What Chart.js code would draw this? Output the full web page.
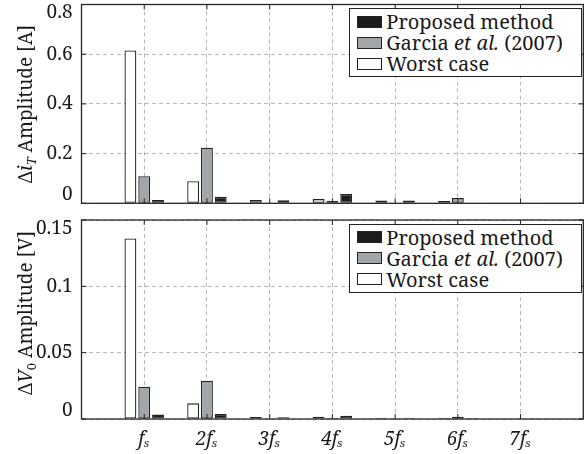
<!DOCTYPE html>
<html><head><meta charset="utf-8">
<script src="https://cdn.jsdelivr.net/npm/chart.js@4.4.1/dist/chart.umd.min.js"></script>
<style>
html,body{margin:0;padding:0;background:#fff;}
#wrap{position:relative;width:584px;height:454px;overflow:hidden;background:#fff;font-family:"Noto Serif","Liberation Serif",serif;color:#1a1a1a;}
.cv{position:absolute;left:0;}
.ytitle{position:absolute;white-space:nowrap;font-size:19px;line-height:1;transform:translate(-50%,-50%) rotate(-90deg);}
.ytitle sub{font-size:13px;vertical-align:-4px;line-height:0;}
.legend{position:absolute;border:1.3px solid #222;background:#fff;box-sizing:border-box;padding:2px 4px 2px 7px;font-size:20px;line-height:21px;}
.legend .row{display:flex;align-items:center;height:21px;white-space:nowrap;}
.legend .sw{width:25px;height:12px;box-sizing:border-box;border:1.3px solid #222;margin-right:4px;flex:none;}
</style></head>
<body>
<div id="wrap">
<canvas id="c1" class="cv" width="584" height="210" style="top:0"></canvas>
<canvas id="c2" class="cv" width="584" height="244" style="top:210px"></canvas>
</div>
<script>
// ---- data ----
const categories = ['fₛ', '2fₛ', '3fₛ', '4fₛ', '5fₛ', '6fₛ', '7fₛ'];
const seriesNames = ['Worst case', 'Garcia et al. (2007)', 'Proposed method'];
const seriesColors = ['#ffffff', '#a3a6a8', '#1c1c1c'];

// top panel: ΔiT amplitude [A]
const iWorst    = [0.615, 0.089, 0.013, 0.017, 0.011, 0.009, 0];
const iGarcia   = [0.109, 0.224, 0.002, 0.009, 0.002, 0.021, 0];
const iProposed = [0.013, 0.026, 0.012, 0.037, 0.011, 0, 0];
const iTicks = [0, 0.2, 0.4, 0.6, 0.8];
const iTickLabels = ['0', '0.2', '0.4', '0.6', '0.8'];

// bottom panel: ΔV0 amplitude [V]
const vWorst    = [0.136, 0.0118, 0.0015, 0.0017, 0.001, 0.001, 0.0005];
const vGarcia   = [0.0244, 0.0289, 0.0005, 0.001, 0.0005, 0.0015, 0.0005];
const vProposed = [0.0033, 0.0038, 0.0013, 0.0025, 0.001, 0.0008, 0.0005];
const vTicks = [0, 0.05, 0.1, 0.15];
const vTickLabels = ['0', '0.05', '0.1', '0.15'];

const topTitle = 'Δ<i>i</i><sub><i>T</i></sub> Amplitude [A]';
const bottomTitle = 'Δ<i>V</i><sub>0</sub> Amplitude [V]';

// ---- drawing ----
const SERIF = '"Noto Serif", "Liberation Serif", serif';
const boxPlugin = {
  id: 'box',
  afterDatasetsDraw(chart) {
    const {ctx, chartArea: a, scales} = chart;
    ctx.save();
    ctx.strokeStyle = '#262626';
    ctx.lineWidth = 1.3;
    ctx.strokeRect(a.left, a.top, a.right - a.left, a.bottom - a.top);
    ctx.lineWidth = 1;
    ctx.beginPath();
    const tl = 5;
    const n = scales.x.ticks.length;
    for (let i = 1; i < n - 1; i++) {
      const x = scales.x.getPixelForTick(i);
      ctx.moveTo(x, a.bottom); ctx.lineTo(x, a.bottom - tl);
      ctx.moveTo(x, a.top); ctx.lineTo(x, a.top + tl);
    }
    scales.y.ticks.forEach(t => {
      const y = scales.y.getPixelForValue(t.value);
      ctx.moveTo(a.left, y); ctx.lineTo(a.left + tl, y);
      ctx.moveTo(a.right, y); ctx.lineTo(a.right - tl, y);
    });
    ctx.stroke();
    ctx.restore();
  }
};

function makeChart(canvas, series, ticks, tickLabels, showX, pad, xH) {
  const labels = ['', ...categories, ''];
  const wrapArr = arr => [null, ...arr, null];
  return new Chart(canvas, {
    type: 'bar',
    data: {
      labels,
      datasets: series.map((s, k) => ({
        label: seriesNames[k],
        data: wrapArr(s),
        backgroundColor: seriesColors[k],
        borderColor: '#222',
        borderWidth: 1.3,
        borderSkipped: false,
        categoryPercentage: 0.66,
        barPercentage: 0.86
      }))
    },
    options: {
      responsive: false,
      animation: false,
      devicePixelRatio: 1,
      layout: {padding: pad},
      plugins: {legend: {display: false}, tooltip: {enabled: false}},
      scales: {
        x: {
          offset: false,
          grid: {color: '#b8b8b8', lineWidth: 1, drawTicks: false, offset: false},
          border: {display: false, dash: [4, 3]},
          ticks: {
            display: showX, autoSkip: false, maxRotation: 0, minRotation: 0, padding: 9,
            color: '#1a1a1a',
            font: {family: SERIF, size: 19, style: 'italic', lineHeight: 1.2}
          },
          afterFit(s) { s.height = xH; s.paddingLeft = 0; s.paddingRight = 0; }
        },
        y: {
          min: ticks[0], max: ticks[ticks.length - 1],
          afterBuildTicks(s) { s.ticks = ticks.map(v => ({value: v})); },
          grid: {color: '#b8b8b8', lineWidth: 1, drawTicks: false},
          border: {display: false, dash: [4, 3]},
          ticks: {
            padding: 9, color: '#1a1a1a',
            font: {family: SERIF, size: 19, lineHeight: 0.9},
            callback(v, i) {
              const t = tickLabels[i];
              if (i === 0) return [t, ''];
              if (i === ticks.length - 1) return ['', t];
              return t;
            }
          },
          afterFit(s) { s.width = 81.5; s.paddingTop = 0; s.paddingBottom = 0; }
        }
      }
    },
    plugins: [boxPlugin]
  });
}

const c1 = makeChart(document.getElementById('c1'), [iWorst, iGarcia, iProposed], iTicks, iTickLabels, false,
  {top: 4.5, bottom: 6.7, left: 0, right: 0.7}, 0);
const c2 = makeChart(document.getElementById('c2'), [vWorst, vGarcia, vProposed], vTicks, vTickLabels, true,
  {top: 10, bottom: 0, left: 0, right: 0.7}, 35);

const wrap = document.getElementById('wrap');
function addOverlays(chart, offY, title, titleY) {
  const a = chart.chartArea;
  const t = document.createElement('div');
  t.className = 'ytitle';
  t.innerHTML = title;
  t.style.left = '25px';
  t.style.top = (titleY !== undefined ? titleY : offY + (a.top + a.bottom) / 2) + 'px';
  wrap.appendChild(t);

  const lg = document.createElement('div');
  lg.className = 'legend';
  lg.style.width = '233px';
  lg.style.height = '69px';
  lg.style.left = (a.right - 1 - 233) + 'px';
  lg.style.top = (offY + a.top + 3.5) + 'px';
  [2, 1, 0].forEach(k => {
    const ds = chart.data.datasets[k];
    const row = document.createElement('div');
    row.className = 'row';
    const sw = document.createElement('span');
    sw.className = 'sw';
    sw.style.background = ds.backgroundColor;
    const tx = document.createElement('span');
    tx.innerHTML = ds.label.replace('et al.', '<i>et al.</i>');
    row.appendChild(sw); row.appendChild(tx);
    lg.appendChild(row);
  });
  wrap.appendChild(lg);
}
addOverlays(c1, 0, topTitle);
addOverlays(c2, 210, bottomTitle, 313);
</script>
</body></html>
